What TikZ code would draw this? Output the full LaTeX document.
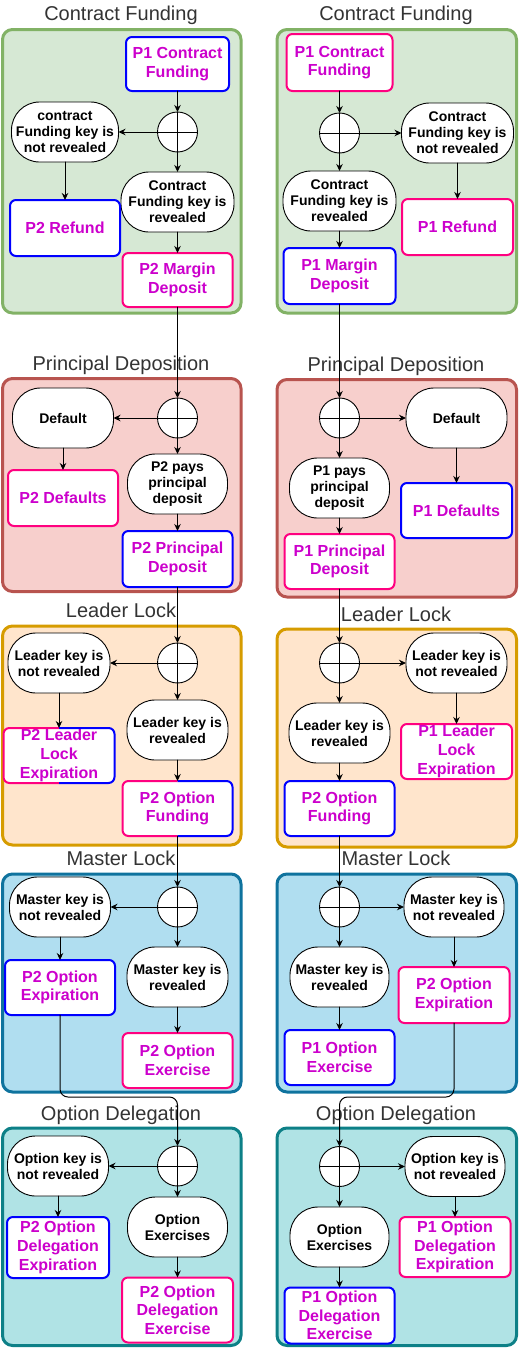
\documentclass[tikz,border=0pt]{standalone}
\usepackage{fontspec}
\setmainfont{Liberation Sans}
\usepackage{pgf,tikz}
\usetikzlibrary{arrows.meta}
\definecolor{d5e8d4}{rgb}{0.84,0.91,0.83}
\definecolor{b2b366}{rgb}{0.51,0.7,0.4}
\definecolor{f8cecc}{rgb}{0.97,0.81,0.8}
\definecolor{b85450}{rgb}{0.72,0.33,0.31}
\definecolor{ffe6cc}{rgb}{1,0.9,0.8}
\definecolor{d79bqq}{rgb}{0.84,0.61,0}
\definecolor{b1ddf0}{rgb}{0.69,0.87,0.94}
\definecolor{qq739e}{rgb}{0.06,0.45,0.62}
\definecolor{b0e3e6}{rgb}{0.69,0.89,0.9}
\definecolor{qe8088}{rgb}{0.05,0.5,0.53}
\definecolor{qqqqff}{rgb}{0,0,1}
\definecolor{ffqq80}{rgb}{1,0,0.5}
\definecolor{ccqqcc}{rgb}{0.8,0,0.8}
\definecolor{333333}{rgb}{0.2,0.2,0.2}
% box with a pink left half and a blue right half
\newcommand{\halfedge}[1]{%
	\begin{scope}
		\clip ([shift={(-3pt,3pt)}]#1.north west) rectangle ([shift={(0pt,-3pt)}]#1.south);
		\draw [color=ffqq80,line width=2pt,rounded corners=6pt] (#1.north west) rectangle (#1.south east);
	\end{scope}
	\begin{scope}
		\clip ([shift={(0pt,3pt)}]#1.north) rectangle ([shift={(3pt,-3pt)}]#1.south east);
		\draw [color=qqqqff,line width=2pt,rounded corners=6pt] (#1.north west) rectangle (#1.south east);
	\end{scope}}

\begin{document}
\begin{tikzpicture}[line cap=round,line join=round,line width=1pt,>={Stealth[length=7pt,width=6.5pt]},x=1pt,y=-1pt,
		box/.style={draw,fill=white,line width=2pt,rounded corners=6pt,inner sep=0pt,outer sep=0pt,align=center,text=ccqqcc,font=\fontsize{16}{18.7}\selectfont\bfseries},
		wh/.style 2 args={minimum width=#1pt,minimum height=#2pt},
		key/.style={draw,fill=white,line width=0.9pt,rounded corners=28pt,minimum height=60pt,inner sep=0pt,outer sep=0pt,align=center,font=\fontsize{14}{16}\selectfont\bfseries},
		gate/.style={circle,draw,fill=white,line width=0.9pt,minimum size=40pt,inner sep=0pt,outer sep=0pt,
			path picture={\draw (path picture bounding box.north) -- (path picture bounding box.south)
				(path picture bounding box.west) -- (path picture bounding box.east);}},
		title/.style={anchor=base,text=333333,font=\fontsize{20}{24}\selectfont},
		panel/.style={line width=3pt,rounded corners=10pt}]
	\useasboundingbox (0,0) rectangle (519,1349);

	% panels
	\draw [panel,color=b2b366,fill=d5e8d4] (2.5,29.5) rectangle (241,313);
	\draw [panel,color=b85450,fill=f8cecc] (2.5,378.5) rectangle (241,591.5);
	\draw [panel,color=d79bqq,fill=ffe6cc] (2.5,626) rectangle (241,845);
	\draw [panel,color=qq739e,fill=b1ddf0] (2.5,874) rectangle (241,1092);
	\draw [panel,color=qe8088,fill=b0e3e6] (2.5,1128) rectangle (241,1345.5);
	\draw [panel,color=b2b366,fill=d5e8d4] (277,29.5) rectangle (516.5,313);
	\draw [panel,color=b85450,fill=f8cecc] (277,379.5) rectangle (516.5,597);
	\draw [panel,color=d79bqq,fill=ffe6cc] (277,629) rectangle (516.5,847);
	\draw [panel,color=qq739e,fill=b1ddf0] (277,874) rectangle (516.5,1092);
	\draw [panel,color=qe8088,fill=b0e3e6] (277,1128) rectangle (516.5,1345.5);

	\node [title] (tl1) at (121,20) {Contract Funding};
	\node [title] (tl2) at (121,370) {Principal Deposition};
	\node [title] (tl3) at (121,617) {Leader Lock};
	\node [title] (tl4) at (121,865) {Master Lock};
	\node [title] (tl5) at (121,1120) {Option Delegation};
	\node [title] (tr1) at (396,20) {Contract Funding};
	\node [title] (tr2) at (396,371) {Principal Deposition};
	\node [title] (tr3) at (396,621) {Leader Lock};
	\node [title] (tr4) at (396,865) {Master Lock};
	\node [title] (tr5) at (396,1120) {Option Delegation};

	% left side
	\node [box,draw=qqqqff,wh={103}{54}] (l1a) at (177.5,64) {P1 Contract\\Funding};
	\node [gate] (l1x) at (177.5,132) {};
	\node [key,minimum width=107pt] (l1n) at (65,132) {contract\\Funding key is\\not revealed};
	\node [key,minimum width=113pt] (l1y) at (177.5,202) {Contract\\Funding key is\\revealed};
	\node [box,draw=qqqqff,wh={110}{56}] (l1e) at (65,228) {P2 Refund};
	\node [box,draw=ffqq80,wh={110}{54}] (l1o) at (177.5,280) {P2 Margin\\Deposit};

	\node [gate] (l2x) at (177.5,418) {};
	\node [key,minimum width=101pt] (l2n) at (63,418) {Default};
	\node [box,draw=ffqq80,wh={110}{56}] (l2e) at (63,498) {P2 Defaults};
	\node [key,minimum width=100pt] (l2y) at (177.5,484) {P2 pays\\principal\\deposit};
	\node [box,draw=qqqqff,wh={110}{56}] (l2o) at (177.5,559) {P2 Principal\\Deposit};

	\node [gate] (l3x) at (177.5,663) {};
	\node [key,minimum width=102pt] (l3n) at (59,663) {Leader key is\\not revealed};
	\node [box,draw=none,wh={111}{55}] (l3e) at (59,755.5) {P2 Leader\\Lock\\Expiration};
	\node [key,minimum width=101pt] (l3y) at (177.5,730) {Leader key is\\revealed};
	\node [box,draw=none,wh={110}{55}] (l3o) at (177.5,808.5) {P2 Option\\Funding};
	\halfedge{l3e}
	\halfedge{l3o}

	\node [gate] (l4x) at (177.5,907) {};
	\node [key,minimum width=101pt] (l4n) at (60,907) {Master key is\\not revealed};
	\node [box,draw=qqqqff,wh={110}{55}] (l4e) at (60,987.5) {P2 Option\\Expiration};
	\node [key,minimum width=101pt] (l4y) at (177.5,977) {Master key is\\revealed};
	\node [box,draw=ffqq80,wh={110}{55}] (l4o) at (177.5,1060.5) {P2 Option\\Exercise};

	\node [gate] (l5x) at (177.5,1166) {};
	\node [key,minimum width=101pt] (l5n) at (58,1166) {Option key is\\not revealed};
	\node [box,draw=qqqqff,wh={102}{61}] (l5e) at (58,1247.5) {P2 Option\\Delegation\\Expiration};
	\node [key,minimum width=100pt] (l5y) at (177.5,1227) {Option\\Exercises};
	\node [box,draw=ffqq80,wh={111}{65}] (l5o) at (177.5,1310) {P2 Option\\Delegation\\Exercise};

	% right side
	\node [box,draw=ffqq80,wh={106}{57}] (r1a) at (339.5,62.5) {P1 Contract\\Funding};
	\node [gate] (r1x) at (339.5,133) {};
	\node [key,minimum width=112pt] (r1n) at (457.5,133) {Contract\\Funding key is\\not revealed};
	\node [key,minimum width=113pt] (r1y) at (339.5,201) {Contract\\Funding key is\\revealed};
	\node [box,draw=ffqq80,wh={111}{56}] (r1e) at (457.5,227) {P1 Refund};
	\node [box,draw=qqqqff,wh={112}{56}] (r1o) at (339.5,276) {P1 Margin\\Deposit};

	\node [gate] (r2x) at (339.5,418) {};
	\node [key,minimum width=101pt] (r2n) at (456.5,418) {Default};
	\node [box,draw=qqqqff,wh={111}{55}] (r2e) at (456.5,510.5) {P1 Defaults};
	\node [key,minimum width=100pt] (r2y) at (339.5,488) {P1 pays\\principal\\deposit};
	\node [box,draw=ffqq80,wh={110}{55}] (r2o) at (339.5,561.5) {P1 Principal\\Deposit};

	\node [gate] (r3x) at (339.5,663) {};
	\node [key,minimum width=101pt] (r3n) at (456.5,663) {Leader key is\\not revealed};
	\node [box,draw=ffqq80,wh={111}{55}] (r3e) at (456.5,751.5) {P1 Leader\\Lock\\Expiration};
	\node [key,minimum width=101pt] (r3y) at (339.5,733) {Leader key is\\revealed};
	\node [box,draw=qqqqff,wh={110}{55}] (r3o) at (339.5,808.5) {P2 Option\\Funding};

	\node [gate] (r4x) at (339.5,907) {};
	\node [key,minimum width=100pt] (r4n) at (454,907) {Master key is\\not revealed};
	\node [box,draw=ffqq80,wh={111}{56}] (r4e) at (454,995) {P2 Option\\Expiration};
	\node [key,minimum width=99pt] (r4y) at (339.5,977) {Master key is\\revealed};
	\node [box,draw=qqqqff,wh={110}{55}] (r4o) at (339.5,1057.5) {P1 Option\\Exercise};

	\node [gate] (r5x) at (339.5,1166.5) {};
	\node [key,minimum width=100pt] (r5n) at (455,1166.5) {Option key is\\not revealed};
	\node [box,draw=ffqq80,wh={111}{60}] (r5e) at (455,1247) {P1 Option\\Delegation\\Expiration};
	\node [key,minimum width=99pt] (r5y) at (339.5,1237) {Option\\Exercises};
	\node [box,draw=qqqqff,wh={110}{56}] (r5o) at (339.5,1315.5) {P1 Option\\Delegation\\Exercise};

	% connectors
	\draw [->] (l1a) -- (l1x);
	\draw [->] (r1a) -- (r1x);
	\foreach \i in {1,...,5} {
		\draw [->] (l\i x.west) -- (l\i n.east);
		\draw [->] (l\i x.south) -- (l\i y.north);
		\draw [->] (l\i n.south) -- (l\i e.north);
		\draw [->] (l\i y.south) -- (l\i o.north);
		\draw [->] (r\i x.east) -- (r\i n.west);
		\draw [->] (r\i x.south) -- (r\i y.north);
		\draw [->] (r\i n.south) -- (r\i e.north);
		\draw [->] (r\i y.south) -- (r\i o.north);
	}
	\foreach \i [count=\j from 2] in {1,2,3} {
		\draw [->] (l\i o.south) -- (l\j x.north);
		\draw [->] (r\i o.south) -- (r\j x.north);
	}
	\coordinate (turn) at (0,1097);
	\draw [->,rounded corners=8pt] (l4e.south) |- (l5x.north |- turn) -- (l5x.north);
	\draw [->,rounded corners=8pt] (r4e.south) |- (r5x.north |- turn) -- (r5x.north);
\end{tikzpicture}
\end{document}
